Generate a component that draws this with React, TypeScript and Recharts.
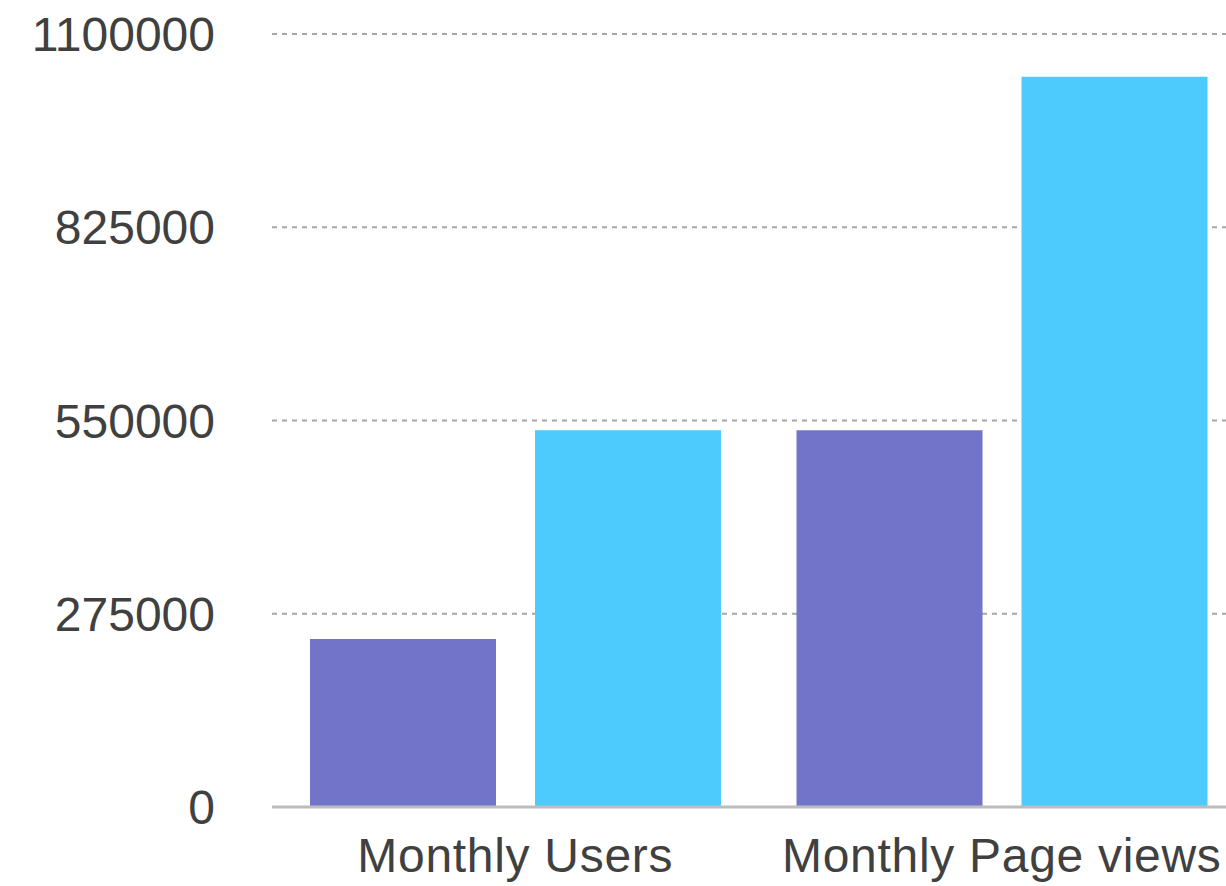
import React from "react";
import { BarChart, Bar, XAxis, YAxis, CartesianGrid } from "recharts";

const categories: string[] = ["Monthly Users", "Monthly Page views"];
const seriesA: number[] = [239000, 536000];
const seriesB: number[] = [536000, 1039000];
const yTicks: number[] = [0, 275000, 550000, 825000, 1100000];

const data = categories.map((name, i) => ({ name, a: seriesA[i], b: seriesB[i] }));

const FONT = "'Liberation Sans', Arial, Helvetica, sans-serif";

export default function App() {
  return (
    <div
      style={{
        position: "fixed",
        top: 0,
        left: 0,
        width: 1226,
        height: 886,
        overflow: "hidden",
        background: "#fff",
      }}
    >
      <BarChart
        width={1260}
        height={886}
        data={data}
        margin={{ top: 34, right: 15, bottom: 0, left: 0 }}
        barCategoryGap={38}
        barGap={39}
      >
        <CartesianGrid vertical={false} stroke="#a6a6a6" strokeWidth={2} strokeDasharray="5 5" />
        <XAxis
          dataKey="name"
          height={79}
          tickLine={false}
          tickSize={0}
          tickMargin={31}
          axisLine={{ stroke: "#bdbdbd", strokeWidth: 3 }}
          tick={{ fill: "#404040", fontSize: 48, fontFamily: FONT, letterSpacing: 0.7 }}
          interval={0}
        />
        <YAxis
          width={272}
          domain={[0, 1100000]}
          ticks={yTicks}
          axisLine={false}
          tickLine={false}
          tickSize={0}
          tickMargin={57}
          tick={{ fill: "#404040", fontSize: 48, fontFamily: FONT }}
          interval={0}
        />
        <Bar dataKey="a" fill="#7174c8" isAnimationActive={false} />
        <Bar dataKey="b" fill="#4dcbfd" isAnimationActive={false} />
      </BarChart>
    </div>
  );
}
